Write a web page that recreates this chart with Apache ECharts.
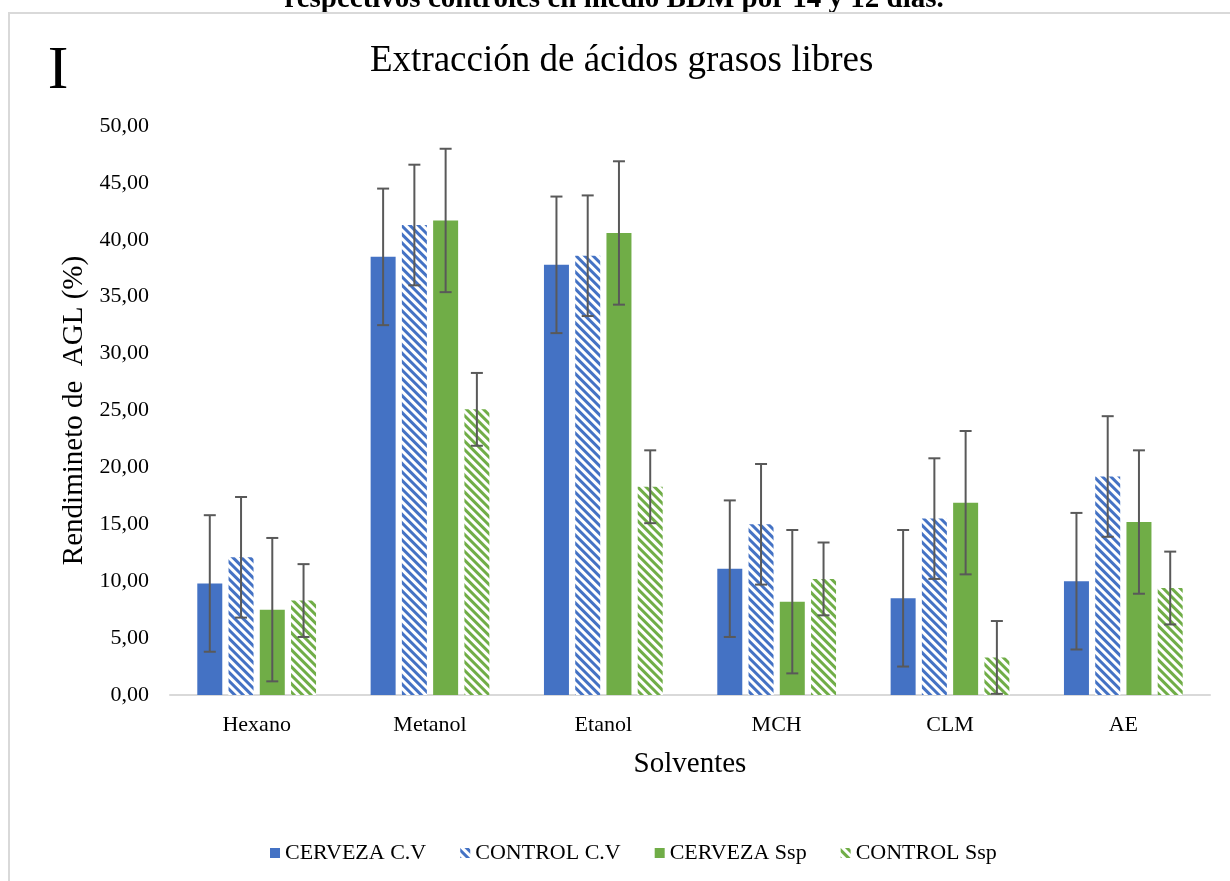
<!DOCTYPE html>
<html>
<head>
<meta charset="utf-8">
<script src="https://cdn.jsdelivr.net/npm/echarts@6/dist/echarts.min.js"></script>
<style>
  html, body { margin: 0; padding: 0; background: #fff; }
  #chart { width: 1230px; height: 881px; }
</style>
</head>
<body>
<div id="chart"></div>
<script>
// Solvents on the x axis
const solventes = ['Hexano', 'Metanol', 'Etanol', 'MCH', 'CLM', 'AE'];

// Free fatty acid yield (%) per solvent
const cervezaCV  = [9.8, 38.5, 37.8, 11.1, 8.5, 10.0];
const controlCV  = [12.1, 41.3, 38.6, 15.0, 15.5, 19.2];
const cervezaSsp = [7.5, 41.7, 40.6, 8.2, 16.9, 15.2];
const controlSsp = [8.3, 25.1, 18.3, 10.2, 3.3, 9.4];

// Error bar half-widths per point
const errCervezaCV  = [6.0, 6.0, 6.0, 6.0, 6.0, 6.0];
const errControlCV  = [5.3, 5.3, 5.3, 5.3, 5.3, 5.3];
const errCervezaSsp = [6.3, 6.3, 6.3, 6.3, 6.3, 6.3];
const errControlSsp = [3.2, 3.2, 3.2, 3.2, 3.2, 3.2];

const serieNames = ['CERVEZA C.V', 'CONTROL C.V', 'CERVEZA Ssp', 'CONTROL Ssp'];

const BLUE = '#4472C4';
const GREEN = '#70AD47';
const FONT = '"Liberation Serif", "Times New Roman", serif';

const BAR_W = 25;
const GAP_RATIO = 0.25;
const N_BARS = 4;

const valueSets = [cervezaCV, controlCV, cervezaSsp, controlSsp];
const errorSets = [errCervezaCV, errControlCV, errCervezaSsp, errControlSsp];

// Diagonal stripe fill for the control series
function hatch(color) {
  return {
    color: color,
    backgroundColor: '#ffffff',
    symbol: 'rect',
    dashArrayX: [1, 0],
    dashArrayY: [3, 3],
    rotation: Math.PI / 4,
    symbolSize: 1
  };
}

const barStyles = [
  { color: BLUE },
  { color: '#ffffff', decal: hatch(BLUE) },
  { color: GREEN },
  { color: '#ffffff', decal: hatch(GREEN) }
];

function errorRenderer(seriesIdx) {
  return function (params, api) {
    const cat = api.value(0);
    const val = api.value(1);
    const err = api.value(2);
    const gap = BAR_W * GAP_RATIO;
    const total = N_BARS * BAR_W + (N_BARS - 1) * gap;
    const offset = -total / 2 + BAR_W / 2 + seriesIdx * (BAR_W + gap);
    const hi = api.coord([cat, val + err]);
    const lo = api.coord([cat, Math.max(0, val - err)]);
    const x = hi[0] + offset;
    const cap = 6;
    const style = { stroke: '#595959', lineWidth: 2 };
    return {
      type: 'group',
      children: [
        { type: 'line', shape: { x1: x, y1: hi[1], x2: x, y2: lo[1] }, style: style },
        { type: 'line', shape: { x1: x - cap, y1: hi[1], x2: x + cap, y2: hi[1] }, style: style },
        { type: 'line', shape: { x1: x - cap, y1: lo[1], x2: x + cap, y2: lo[1] }, style: style }
      ]
    };
  };
}

const series = [];
valueSets.forEach(function (vals, i) {
  series.push({
    name: serieNames[i],
    type: 'bar',
    data: vals,
    barWidth: BAR_W,
    barGap: (GAP_RATIO * 100) + '%',
    itemStyle: barStyles[i],
    emphasis: { disabled: true }
  });
});
valueSets.forEach(function (vals, i) {
  series.push({
    type: 'custom',
    renderItem: errorRenderer(i),
    data: vals.map(function (v, k) { return [k, v, errorSets[i][k]]; }),
    encode: { x: 0, y: 1 },
    z: 5,
    silent: true
  });
});

const chart = echarts.init(document.getElementById('chart'), null, { renderer: 'canvas' });
chart.setOption({
  animation: false,
  backgroundColor: '#ffffff',
  graphic: [
    {
      type: 'text',
      x: 614, y: 0,
      style: {
        text: 'respectivos controles en medio BDM por 14 y 12 días.',
        font: 'bold 29px ' + FONT,
        fill: '#000',
        align: 'center',
        verticalAlign: 'middle'
      }
    },
    {
      type: 'rect',
      shape: { x: 9, y: 13, width: 1240, height: 900 },
      style: { fill: 'none', stroke: '#d9d9d9', lineWidth: 2 }
    },
    {
      type: 'text',
      x: 58, y: 72,
      style: {
        text: 'I',
        font: '62px ' + FONT,
        fill: '#000',
        align: 'center',
        verticalAlign: 'middle'
      }
    }
  ],
  title: {
    text: 'Extracción de ácidos grasos libres',
    left: 370,
    top: 43,
    padding: 0,
    textStyle: { fontFamily: FONT, fontSize: 37, fontWeight: 'normal', color: '#000' }
  },
  legend: {
    bottom: 12,
    left: 265,
    icon: 'rect',
    itemWidth: 10,
    itemHeight: 10,
    itemGap: 34,
    data: serieNames,
    textStyle: { fontFamily: FONT, fontSize: 22, color: '#000' }
  },
  grid: { left: 170, right: 20, top: 126, bottom: 186, containLabel: false },
  xAxis: {
    type: 'category',
    data: solventes,
    name: 'Solventes',
    nameLocation: 'middle',
    nameGap: 55,
    nameTextStyle: { fontFamily: FONT, fontSize: 29, color: '#000' },
    axisLine: { lineStyle: { color: '#d9d9d9', width: 2 } },
    axisTick: { show: false },
    axisLabel: { fontFamily: FONT, fontSize: 22, color: '#000', margin: 19 }
  },
  yAxis: {
    type: 'value',
    min: 0,
    max: 50,
    interval: 5,
    name: 'Rendimineto de  AGL (%)',
    nameLocation: 'middle',
    nameGap: 78,
    nameTextStyle: { fontFamily: FONT, fontSize: 29, color: '#000' },
    axisLine: { show: false },
    axisTick: { show: false },
    splitLine: { show: false },
    axisLabel: {
      fontFamily: FONT, fontSize: 22, color: '#000', margin: 21,
      formatter: function (v) { return v.toFixed(2).replace('.', ','); }
    }
  },
  series: series
});
</script>
</body>
</html>
